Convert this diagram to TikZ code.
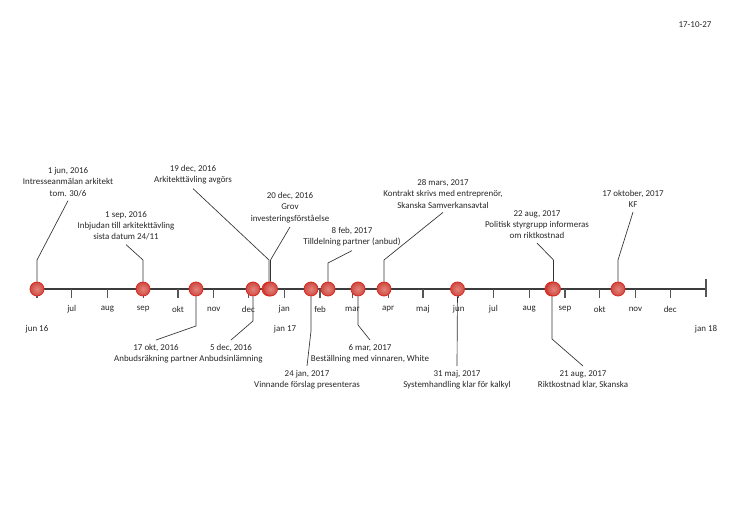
\documentclass[tikz,border=0pt]{standalone}
\usepackage{fontspec}
\setmainfont{Carlito}
\usetikzlibrary{backgrounds}

\definecolor{evred}{RGB}{205,75,68}
\definecolor{evlight}{RGB}{228,130,120}
\definecolor{evline}{RGB}{218,40,32}
\definecolor{axgray}{RGB}{60,60,60}
\definecolor{tkgray}{RGB}{85,85,85}

\tikzset{
  evt/.style={circle,draw=evline,line width=0.6pt,inner color=evlight,outer color=evred,
    minimum size=10.5pt,inner sep=0pt},
  lbl/.style={align=center,inner sep=3pt,text=black!85,font=\fontsize{6.7}{8.5}\selectfont},
  mon/.style={inner sep=0pt,text=black!85,font=\fontsize{6.7}{8.5}\selectfont},
  lead/.style={line width=0.5pt,black!80},
  tk/.style={line width=1pt,tkgray}
}

\begin{document}
\begin{tikzpicture}[x=0.75pt,y=-0.75pt]
\useasboundingbox (0,0) rectangle (746,527);

\node[mon] (datum) at (695,25) {17-10-27};

% events on the axis
\node[evt] (jun1) at (37,289) {};
\node[evt] (sep1) at (143,289) {};
\node[evt] (okt17) at (196,289) {};
\node[evt] (dec5) at (253,289) {};
\node[evt] (dec19) at (269,289) {};
\node[evt] (dec20) at (270.5,289) {};
\node[evt] (jan24) at (311,289) {};
\node[evt] (feb8) at (328,289) {};
\node[evt] (mar6) at (358,289) {};
\node[evt] (mar28) at (384,289) {};
\node[evt] (maj31) at (457.5,289) {};
\node[evt] (aug21) at (552,289) {};
\node[evt] (aug22) at (553.5,289) {};
\node[evt] (okt17b) at (618,289) {};

% labels above
\node[lbl,anchor=north] (jun1t) at (68,163) {1 jun, 2016\\Intresseanmälan arkitekt\\tom. 30/6};
\node[lbl,anchor=north] (sep1t) at (126,207) {1 sep, 2016\\Inbjudan till arkitekttävling\\sista datum 24/11};
\node[lbl,anchor=north] (dec19t) at (193,161) {19 dec, 2016\\Arkitekttävling avgörs};
\node[lbl,anchor=north] (dec20t) at (290,188) {20 dec, 2016\\Grov\\investeringsförståelse};
\node[lbl,anchor=north] (feb8t) at (352,223) {8 feb, 2017\\Tilldelning partner (anbud)};
\node[lbl,anchor=north] (mar28t) at (443,175) {28 mars, 2017\\Kontrakt skrivs med entreprenör,\\Skanska Samverkansavtal};
\node[lbl,anchor=north] (aug22t) at (537,206) {22 aug, 2017\\Politisk styrgrupp informeras\\om riktkostnad};
\node[lbl,anchor=north] (okt17bt) at (633,186) {17 oktober, 2017\\KF};

% labels below
\node[lbl,anchor=north] (okt17t) at (156,340) {17 okt, 2016\\Anbudsräkning partner};
\node[lbl,anchor=north] (dec5t) at (231,340) {5 dec, 2016\\Anbudsinlämning};
\node[lbl,anchor=north] (jan24t) at (307,366) {24 jan, 2017\\Vinnande förslag presenteras};
\node[lbl,anchor=north] (mar6t) at (370,340) {6 mar, 2017\\Beställning med vinnaren, White};
\node[lbl,anchor=north] (maj31t) at (457,366) {31 maj, 2017\\Systemhandling klar för kalkyl};
\node[lbl,anchor=north] (aug21t) at (583,366) {21 aug, 2017\\Riktkostnad klar, Skanska};

\begin{scope}[on background layer]
% axis and months
\coordinate (ax0) at (37,289);
\coordinate (ax1) at (706,289);
\draw[axgray,line width=0.8pt] (ax0) -- (ax1);
\draw[tk] (706,279) -- (706,297);
\draw[tk] (37,289) -- (37,298);
\foreach \x/\m [count=\i] in {71.7/jul,107.5/aug,143.3/sep,178/okt,213.8/nov,248.4/dec,
    284.3/jan,320.1/feb,352.4/mar,388.2/apr,422.9/maj,458.7/jun,493.4/jul,529.2/aug,
    565/sep,599.7/okt,635.5/nov,670.2/dec}{
  \draw[tk] (\x,289) -- (\x,298);
  \node[mon] (mon\i) at (\x,309) {\m};
}
\node[mon] (yr16) at (37,329) {jun 16};
\node[mon] (yr17) at (285,329) {jan 17};
\node[mon] (yr18) at (706,329) {jan 18};

% leaders
\draw[lead] (jun1) -- ++(0,-29) -- (jun1t.south);
\draw[lead] (sep1) -- ++(0,-29) -- (sep1t.south);
\draw[lead] (dec19) -- ++(0,-29) -- (dec19t.south);
\draw[lead] (dec20) -- ++(0,-29) -- (dec20t.south);
\draw[lead] (feb8) -- ++(0,-26) -- (feb8t.south);
\draw[lead] (mar28) -- ++(0,-29) -- (mar28t.south);
\draw[lead] (aug22) -- ++(0,-29) -- (aug22t.south);
\draw[lead] (okt17b) -- ++(0,-29) -- (okt17bt.south);

\draw[lead] (okt17) -- ++(0,37) -- (okt17t.north);
\draw[lead] (dec5) -- ++(0,32) -- (dec5t.north);
\draw[lead] (jan24) -- ++(0,42) -- (jan24t.north);
\draw[lead] (mar6) -- ++(0,36) -- (mar6t.north);
\draw[lead] (maj31) -- (maj31t.north);
\draw[lead] (aug21) -- ++(0,50) -- (aug21t.north);
\end{scope}
\end{tikzpicture}
\end{document}
